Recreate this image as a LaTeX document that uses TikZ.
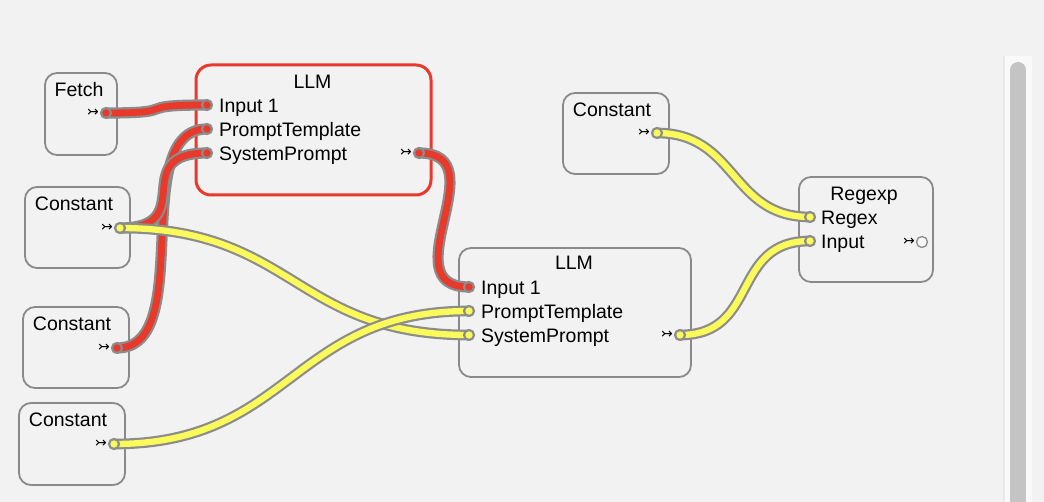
\documentclass[tikz,border=0pt]{standalone}
\usepackage{fontspec}
\setmainfont{Liberation Sans}
\newfontfamily\arrowfont{DejaVu Sans}
\newcommand\ndfont{\fontsize{19.5}{23}\selectfont}
\definecolor{bg}{HTML}{F2F2F2}
\definecolor{boxgray}{HTML}{8A8A8A}
\definecolor{selred}{HTML}{E8392A}
\definecolor{wireyel}{HTML}{FAFA5A}
\definecolor{wiregray}{HTML}{8C8C8C}
\definecolor{tracklight}{HTML}{F9F9F9}
\definecolor{trackedge}{HTML}{E9E9E9}
\definecolor{thumbgray}{HTML}{C4C4C4}
\definecolor{hollow}{HTML}{F7F7F7}
\begin{document}
\begin{tikzpicture}[x=1pt,y=-1pt,
  nodebox/.style={draw=boxgray, line width=1.8pt, rounded corners=12pt, fill=bg, anchor=north west, inner sep=0pt, outer sep=0pt},
  selbox/.style={nodebox, draw=selred, line width=3pt, rounded corners=15pt},
  portc/.style={circle, draw=wiregray, line width=2.2pt, minimum size=10pt, inner sep=0pt},
  redport/.style={portc, fill=selred},
  yelport/.style={portc, fill=wireyel},
  emptyport/.style={portc, draw=boxgray, line width=1.3pt, fill=hollow, minimum size=11pt},
  ntitle/.style={anchor=base, font=\ndfont, inner sep=0pt},
  plabel/.style={anchor=base west, font=\ndfont, inner sep=0pt},
  outglyph/.style={font=\arrowfont\fontsize{14}{14}\selectfont, inner sep=0pt},
  redwire/.style={draw=wiregray, line width=2.2pt, double=selred, double distance=6.8pt},
  yelwire/.style={draw=wiregray, line width=2.2pt, double=wireyel, double distance=6.3pt}
]
% background and bounds
\fill[bg] (0,0) rectangle (1044,502);
\useasboundingbox (0,0) rectangle (1044,502);

% scrollbar
\fill[tracklight] (1003,56) rectangle (1032,502);
\fill[trackedge] (1003,56) rectangle (1004.5,502);
\fill[thumbgray] (1018,70) circle[radius=8pt];
\fill[thumbgray] (1010,70) rectangle (1026,502);

% boxes
\node[nodebox, minimum width=72pt, minimum height=82pt] (fetch) at (45,73) {};
\node[selbox, minimum width=235pt, minimum height=130pt] (llmA) at (196,65) {};
\node[nodebox, minimum width=105pt, minimum height=81pt] (constA) at (25,187) {};
\node[nodebox, minimum width=106pt, minimum height=81pt] (constB) at (23,307) {};
\node[nodebox, minimum width=106pt, minimum height=82pt] (constC) at (19,403) {};
\node[nodebox, minimum width=106pt, minimum height=81pt] (constD) at (563,93) {};
\node[nodebox, minimum width=232pt, minimum height=129pt] (llmB) at (459,248) {};
\node[nodebox, minimum width=134pt, minimum height=105pt] (regx) at (799,177) {};

% titles
\node[ntitle] (fetchT) at (79,96.5) {Fetch};
\node[ntitle] (llmAT) at (312.5,88.5) {LLM};
\node[ntitle] (constAT) at (74,210.5) {Constant};
\node[ntitle] (constBT) at (72,330.5) {Constant};
\node[ntitle] (constCT) at (68,426.5) {Constant};
\node[ntitle] (constDT) at (612,116.5) {Constant};
\node[ntitle] (llmBT) at (574,269.5) {LLM};
\node[ntitle] (regxT) at (864,200.7) {Regexp};

% port anchors (coordinates)
\coordinate (fetchO) at (106,113);
\coordinate (aI1) at (207,105);
\coordinate (aPT) at (207,129);
\coordinate (aSP) at (207,153);
\coordinate (aO) at (419,153);
\coordinate (cAO) at (120,228);
\coordinate (cBO) at (117,348);
\coordinate (cCO) at (114,444);
\coordinate (cDO) at (657,133);
\coordinate (bI1) at (469,287);
\coordinate (bPT) at (469,311);
\coordinate (bSP) at (469,335);
\coordinate (bO) at (680,335);
\coordinate (rRG) at (810,217);
\coordinate (rIN) at (810,241);
\coordinate (rO) at (922,242);

% port labels
\node[plabel] (lbAI1) at (219,112.3) {Input 1};
\node[plabel] (lbAPT) at (219,136.3) {PromptTemplate};
\node[plabel] (lbASP) at (219,160.3) {SystemPrompt};
\node[plabel] (lbBI1) at (481,294.3) {Input 1};
\node[plabel] (lbBPT) at (481,318.3) {PromptTemplate};
\node[plabel] (lbBSP) at (481,342.3) {SystemPrompt};
\node[plabel] (lbRRG) at (821,224.3) {Regex};
\node[plabel] (lbRIN) at (821,248.3) {Input};

% output glyphs
\node[outglyph] (gF) at (93,113) {↣};
\node[outglyph] (gA) at (406,153) {↣};
\node[outglyph] (gCA) at (107,228) {↣};
\node[outglyph] (gCB) at (104,348) {↣};
\node[outglyph] (gCC) at (101,444) {↣};
\node[outglyph] (gCD) at (644,133) {↣};
\node[outglyph] (gB) at (667,335) {↣};
\node[outglyph] (gR) at (909,242) {↣};

% red wires (selected)
\draw[redwire] (fetchO) .. controls +(80,0) and +(-80,0) .. (aI1);
\draw[redwire] (cBO) .. controls +(80,0) and +(-80,0) .. (aPT);
\draw[redwire] (cAO) .. controls +(80,0) and +(-80,0) .. (aSP);
\draw[redwire] (aO) .. controls +(80,0) and +(-80,0) .. (bI1);

% yellow wires
\draw[yelwire] (cAO) .. controls +(174.5,0) and +(-174.5,0) .. (bSP);
\draw[yelwire] (cCO) .. controls +(177.5,0) and +(-177.5,0) .. (bPT);
\draw[yelwire] (cDO) .. controls +(80,0) and +(-80,0) .. (rRG);
\draw[yelwire] (bO) .. controls +(80,0) and +(-80,0) .. (rIN);

% ports
\node[redport] (pFetchO) at (fetchO) {};
\node[redport] (pAI1) at (aI1) {};
\node[redport] (pAPT) at (aPT) {};
\node[redport] (pASP) at (aSP) {};
\node[redport] (pAO) at (aO) {};
\node[yelport] (pCAO) at (cAO) {};
\node[redport] (pCBO) at (cBO) {};
\node[yelport] (pCCO) at (cCO) {};
\node[yelport] (pCDO) at (cDO) {};
\node[redport] (pBI1) at (bI1) {};
\node[yelport] (pBPT) at (bPT) {};
\node[yelport] (pBSP) at (bSP) {};
\node[yelport] (pBO) at (bO) {};
\node[yelport] (pRRG) at (rRG) {};
\node[yelport] (pRIN) at (rIN) {};
\node[emptyport] (pRO) at (rO) {};
\end{tikzpicture}
\end{document}
